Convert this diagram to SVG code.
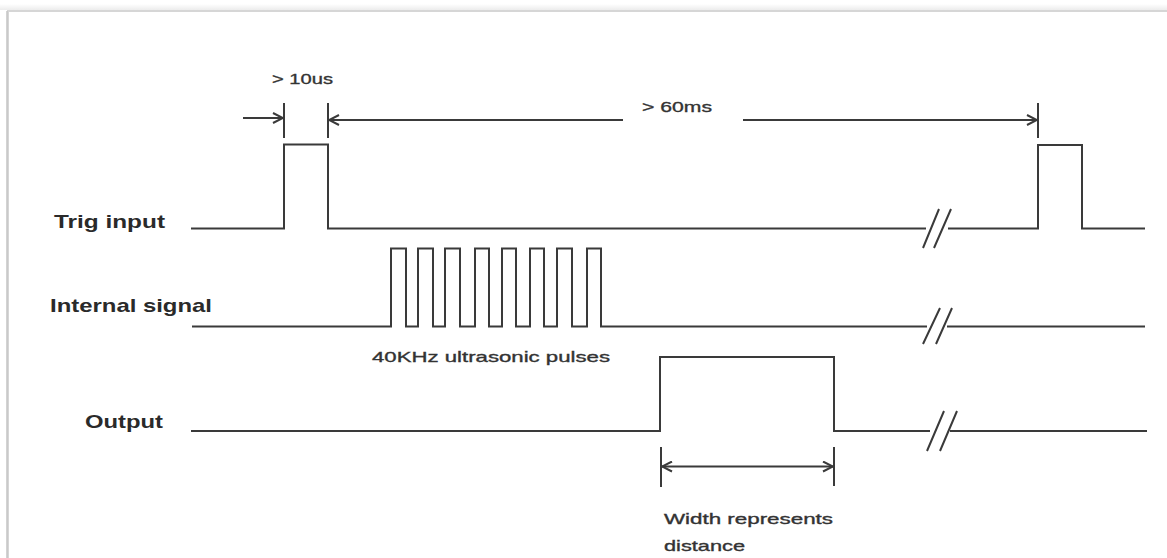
<svg xmlns="http://www.w3.org/2000/svg" width="1167" height="558" viewBox="0 0 1167 558">
<style>
.sig{fill:none;stroke:#3a3a3a;stroke-width:2;stroke-linejoin:miter}
.brk{fill:none;stroke:#3a3a3a;stroke-width:2}
.dim{fill:none;stroke:#3a3a3a;stroke-width:2}
.lbl{font-family:"Liberation Sans",Arial,sans-serif;font-weight:bold;font-size:19px;fill:#2a2a2a}
.note{font-family:"Liberation Sans",Arial,sans-serif;font-size:15px;fill:#333;stroke:#333;stroke-width:0.35}
</style>
<defs>
<marker id="ah" viewBox="0 0 12 12" refX="11" refY="6" markerWidth="12" markerHeight="12" markerUnits="userSpaceOnUse" orient="auto-start-reverse">
<path d="M1,1 L11,6 L1,11" fill="none" stroke="#3a3a3a" stroke-width="2"/>
</marker>
<linearGradient id="shadow" x1="0" y1="0" x2="0" y2="1">
<stop offset="0" stop-color="#ffffff"/>
<stop offset="1" stop-color="#ececec"/>
</linearGradient>
</defs>
<rect width="1167" height="558" fill="#ffffff"/>
<rect x="0" y="4" width="1167" height="6" fill="url(#shadow)"/>
<path d="M8,560 V11 H1170" fill="none" stroke="#d6d6d6" stroke-width="2"/>
<line x1="7" y1="11" x2="7" y2="560" stroke="#c4c4c4" stroke-width="1.5"/>

<g id="trig-input">
<text class="lbl" x="54" y="228" textLength="111" lengthAdjust="spacingAndGlyphs">Trig input</text>
<path class="sig" d="M191,228.5 H284 V144.5 H328 V228.5 H926"/>
<path class="sig" d="M948,228.5 H1038 V145 H1082 V228.5 H1145"/>
<path class="brk" d="M923,248 L939,209 M934,248 L951,209"/>
</g>

<g id="internal-signal">
<text class="lbl" x="50" y="312" textLength="162" lengthAdjust="spacingAndGlyphs">Internal signal</text>
<path class="sig" d="M192,326.5 H391 V248.5 H406 V326.5 H418 V248.5 H433 V326.5 H445 V248.5 H460 V326.5 H475 V248.5 H489 V326.5 H502 V248.5 H516 V326.5 H530 V248.5 H544 V326.5 H557 V248.5 H572 V326.5 H587 V248.5 H601 V326.5 H927"/>
<path class="sig" d="M947,326.5 H1145"/>
<path class="brk" d="M923,344 L940,308 M936,344 L952,308"/>
<text class="note" x="372" y="362" textLength="238" lengthAdjust="spacingAndGlyphs">40KHz ultrasonic pulses</text>
</g>

<g id="output">
<text class="lbl" x="85" y="428" textLength="78" lengthAdjust="spacingAndGlyphs">Output</text>
<path class="sig" d="M191,431 H660 V357 H834 V431 H930"/>
<path class="sig" d="M950,431 H1147"/>
<path class="brk" d="M927,451 L944,411 M940,451 L957,411"/>
<text class="note" x="664" y="524" textLength="169" lengthAdjust="spacingAndGlyphs">Width represents</text>
<text class="note" x="664" y="551" textLength="81" lengthAdjust="spacingAndGlyphs">distance</text>
</g>

<g id="connectors">
<line class="dim" x1="284" y1="103" x2="284" y2="138"/>
<line class="dim" x1="328" y1="103" x2="328" y2="138"/>
<line class="dim" x1="1038" y1="103" x2="1038" y2="138"/>
<line class="dim" x1="243" y1="118" x2="283" y2="118" marker-end="url(#ah)"/>
<line class="dim" x1="329" y1="120" x2="623" y2="120" marker-start="url(#ah)"/>
<line class="dim" x1="743" y1="120" x2="1037" y2="120" marker-end="url(#ah)"/>
<text class="note" x="272" y="84" textLength="61" lengthAdjust="spacingAndGlyphs">&gt; 10us</text>
<text class="note" x="642" y="112" textLength="70" lengthAdjust="spacingAndGlyphs">&gt; 60ms</text>
<line class="dim" x1="661" y1="447" x2="661" y2="487"/>
<line class="dim" x1="834" y1="447" x2="834" y2="486"/>
<line class="dim" x1="662" y1="466.5" x2="833" y2="466.5" marker-start="url(#ah)" marker-end="url(#ah)"/>
</g>
</svg>
